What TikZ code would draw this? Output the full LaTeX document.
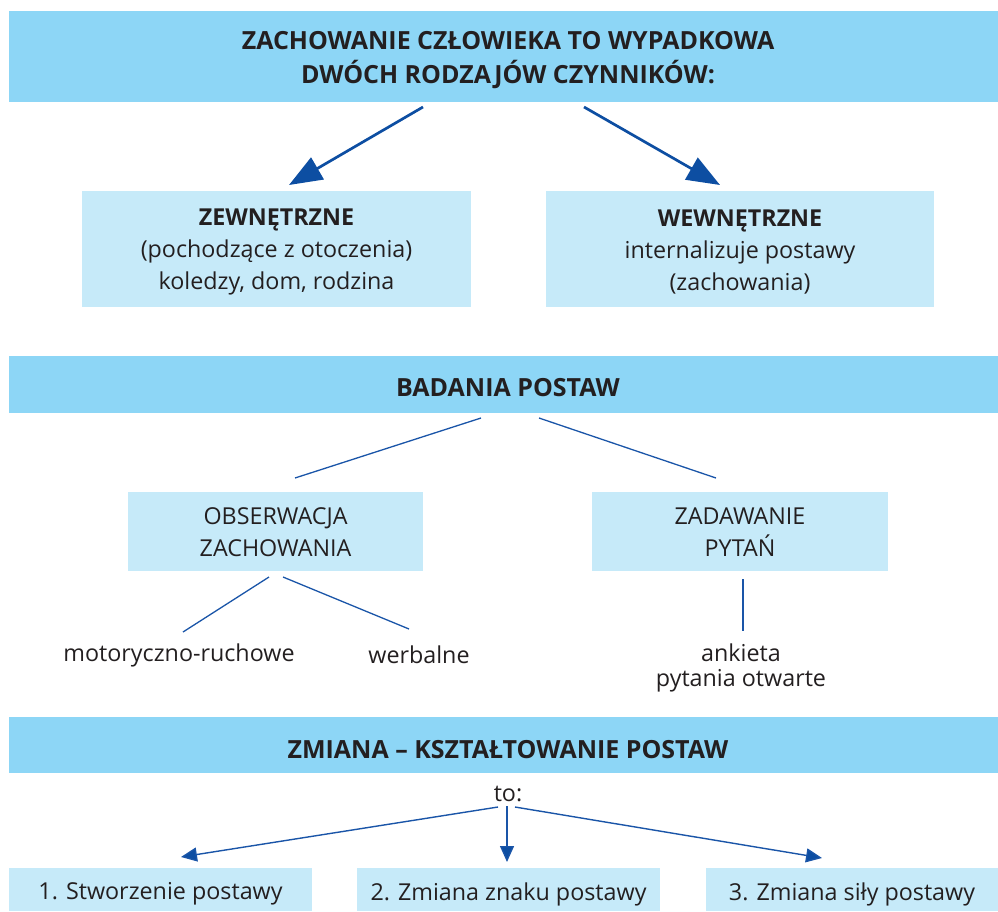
\documentclass[tikz,border=0pt]{standalone}
\usepackage{fontspec}
\setmainfont{Open Sans}
\usetikzlibrary{arrows.meta}
\definecolor{banner}{HTML}{8DD6F6}
\definecolor{lightbox}{HTML}{C6EAF9}
\definecolor{linkblue}{HTML}{1A55A8}
\definecolor{tipblue}{HTML}{0D4EA2}
\definecolor{txt}{HTML}{231F20}
\tikzset{
  bannerbox/.style={fill=banner, inner sep=0pt, minimum width=989pt},
  bannertext/.style={inner sep=0pt, text=txt, font=\fontsize{25}{34}\selectfont\bfseries, align=center},
  infobox/.style={fill=lightbox, inner sep=0pt},
  boxtext/.style={inner sep=0pt, text=txt, font=\fontsize{23.3}{32}\selectfont, align=center},
  plaintext/.style={inner sep=0pt, text=txt, font=\fontsize{23.3}{25}\selectfont, align=center},
  bigarrow/.style={draw=tipblue, line width=2.7pt, -{Triangle[length=33pt,width=25pt,fill=tipblue]}},
  smallarrow/.style={draw=linkblue, line width=1.4pt, -{Triangle[length=16pt,width=14pt,fill=tipblue]}},
  link/.style={draw=linkblue, line width=1.3pt}
}
\begin{document}
\begin{tikzpicture}[x=1pt,y=-1pt]
\useasboundingbox (0,0) rectangle (998,911);
% banners
\node[bannerbox, minimum height=91pt] (b1) at (503.5,56.5) {};
\node[bannertext] (b1t) at (508,60) {ZACHOWANIE CZŁOWIEKA TO WYPADKOWA\\DWÓCH RODZAJÓW CZYNNIKÓW:};
\node[bannerbox, minimum height=57pt] (b2) at (503.5,384.5) {};
\node[bannertext] (b2t) at (508,388) {BADANIA POSTAW};
\node[bannerbox, minimum height=56pt] (b3) at (503.5,745) {};
\node[bannertext] (b3t) at (508,750) {ZMIANA – KSZTAŁTOWANIE POSTAW};
% level 1 boxes
\node[infobox, minimum width=389pt, minimum height=116pt] (zew) at (276.5,249) {};
\node[boxtext] (zewt) at (276.5,252) {\textbf{ZEWNĘTRZNE}\\(pochodzące z otoczenia)\\koledzy, dom, rodzina};
\node[infobox, minimum width=388pt, minimum height=116pt] (wew) at (740,249) {};
\node[boxtext] (wewt) at (740,252) {\textbf{WEWNĘTRZNE}\\internalizuje postawy\\(zachowania)};
% level 2 boxes
\node[infobox, minimum width=295pt, minimum height=79pt] (obs) at (275.5,531) {};
\node[boxtext] (obst) at (275.5,532.5) {OBSERWACJA\\ZACHOWANIA};
\node[infobox, minimum width=296pt, minimum height=79pt] (zad) at (740,531) {};
\node[boxtext] (zadt) at (740,532.5) {ZADAWANIE\\PYTAŃ};
% leaves
\node[plaintext] (mot) at (179,655) {motoryczno-ruchowe};
\node[plaintext] (wer) at (419,655) {werbalne};
\node[plaintext] (ank) at (741,668) {ankieta\\pytania otwarte};
\node[plaintext] (to) at (508,794) {to:};
% bottom boxes
\node[infobox, minimum width=303pt, minimum height=43pt] (s1) at (160.5,889.5) {};
\node[boxtext] (s1t) at (160.5,894) {1. Stworzenie postawy};
\node[infobox, minimum width=303pt, minimum height=43pt] (s2) at (508.5,889.5) {};
\node[boxtext] (s2t) at (508.5,894) {2. Zmiana znaku postawy};
\node[infobox, minimum width=292pt, minimum height=43pt] (s3) at (852,889.5) {};
\node[boxtext] (s3t) at (852,894) {3. Zmiana siły postawy};
% connector end points
\coordinate (a1s) at (423,107); \coordinate (a1e) at (289,185);
\coordinate (a2s) at (584,107); \coordinate (a2e) at (720,185);
\coordinate (l1s) at (481,418); \coordinate (l1e) at (295,478);
\coordinate (l2s) at (539,418); \coordinate (l2e) at (716,478);
\coordinate (l3s) at (269,577); \coordinate (l3e) at (183,632);
\coordinate (l4s) at (283,577); \coordinate (l4e) at (409,629);
\coordinate (l5s) at (743,579); \coordinate (l5e) at (743,631);
\coordinate (t1s) at (498,807); \coordinate (t1e) at (181,857);
\coordinate (t2s) at (507,806); \coordinate (t2e) at (507,862);
\coordinate (t3s) at (515,807); \coordinate (t3e) at (822,858);
% connectors
\draw[bigarrow] (a1s) -- (a1e);
\draw[bigarrow] (a2s) -- (a2e);
\draw[link] (l1s) -- (l1e);
\draw[link] (l2s) -- (l2e);
\draw[link] (l3s) -- (l3e);
\draw[link] (l4s) -- (l4e);
\draw[link] (l5s) -- (l5e);
\draw[smallarrow] (t1s) -- (t1e);
\draw[smallarrow] (t2s) -- (t2e);
\draw[smallarrow] (t3s) -- (t3e);
\end{tikzpicture}
\end{document}
